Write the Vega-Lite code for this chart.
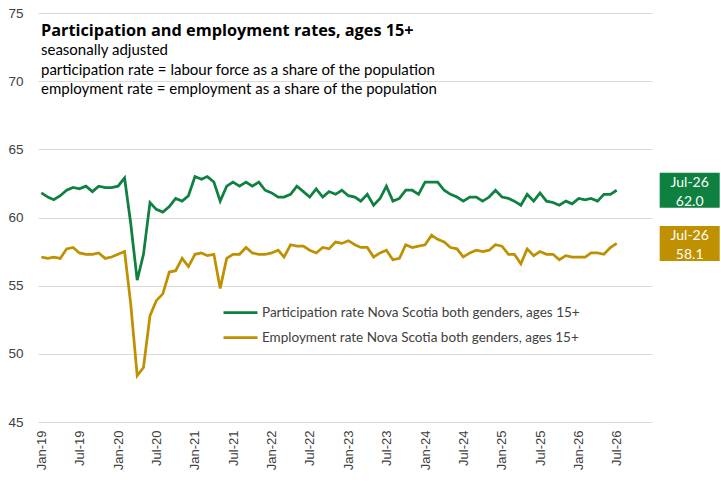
{
  "$schema": "https://vega.github.io/schema/vega-lite/v6.json",
  "width": 614,
  "height": 409,
  "autosize": {"type": "none"},
  "padding": {"left": 38, "top": 13, "right": 69, "bottom": 59},
  "background": "white",
  "config": {"view": {"stroke": null}, "font": "Lato"},
  "title": {
    "text": "Participation and employment rates, ages 15+",
    "subtitle": [
      "seasonally adjusted",
      "participation rate = labour force as a share of the population",
      "employment rate = employment as a share of the population"
    ],
    "anchor": "start",
    "frame": "group",
    "orient": "top",
    "offset": -91,
    "dx": 3,
    "font": "Open Sans",
    "fontSize": 16.3,
    "fontWeight": "bold",
    "color": "#000000",
    "subtitleFont": "Lato",
    "subtitleFontSize": 15,
    "subtitleColor": "#000000",
    "subtitlePadding": 4,
    "subtitleLineHeight": 19.5
  },
  "data": {
    "format": {"parse": {"date": "date"}},
    "values": [
      {"date": "2019/01/01", "p": 61.8, "e": 57.1},
      {"date": "2019/02/01", "p": 61.5, "e": 57.0},
      {"date": "2019/03/01", "p": 61.3, "e": 57.1},
      {"date": "2019/04/01", "p": 61.6, "e": 57.0},
      {"date": "2019/05/01", "p": 62.0, "e": 57.7},
      {"date": "2019/06/01", "p": 62.2, "e": 57.8},
      {"date": "2019/07/01", "p": 62.1, "e": 57.4},
      {"date": "2019/08/01", "p": 62.3, "e": 57.3},
      {"date": "2019/09/01", "p": 61.9, "e": 57.3},
      {"date": "2019/10/01", "p": 62.3, "e": 57.4},
      {"date": "2019/11/01", "p": 62.2, "e": 57.0},
      {"date": "2019/12/01", "p": 62.2, "e": 57.1},
      {"date": "2020/01/01", "p": 62.3, "e": 57.3},
      {"date": "2020/02/01", "p": 62.9, "e": 57.5},
      {"date": "2020/03/01", "p": 59.6, "e": 53.7},
      {"date": "2020/04/01", "p": 55.4, "e": 48.4},
      {"date": "2020/05/01", "p": 57.3, "e": 49.0},
      {"date": "2020/06/01", "p": 61.1, "e": 52.8},
      {"date": "2020/07/01", "p": 60.6, "e": 53.9},
      {"date": "2020/08/01", "p": 60.4, "e": 54.4},
      {"date": "2020/09/01", "p": 60.8, "e": 56.0},
      {"date": "2020/10/01", "p": 61.4, "e": 56.1},
      {"date": "2020/11/01", "p": 61.2, "e": 57.0},
      {"date": "2020/12/01", "p": 61.6, "e": 56.4},
      {"date": "2021/01/01", "p": 63.0, "e": 57.3},
      {"date": "2021/02/01", "p": 62.8, "e": 57.4},
      {"date": "2021/03/01", "p": 63.0, "e": 57.2},
      {"date": "2021/04/01", "p": 62.6, "e": 57.3},
      {"date": "2021/05/01", "p": 61.2, "e": 54.8},
      {"date": "2021/06/01", "p": 62.3, "e": 57.0},
      {"date": "2021/07/01", "p": 62.6, "e": 57.3},
      {"date": "2021/08/01", "p": 62.3, "e": 57.3},
      {"date": "2021/09/01", "p": 62.6, "e": 57.8},
      {"date": "2021/10/01", "p": 62.3, "e": 57.4},
      {"date": "2021/11/01", "p": 62.6, "e": 57.3},
      {"date": "2021/12/01", "p": 62.0, "e": 57.3},
      {"date": "2022/01/01", "p": 61.8, "e": 57.4},
      {"date": "2022/02/01", "p": 61.5, "e": 57.6},
      {"date": "2022/03/01", "p": 61.5, "e": 57.1},
      {"date": "2022/04/01", "p": 61.7, "e": 58.0},
      {"date": "2022/05/01", "p": 62.3, "e": 57.9},
      {"date": "2022/06/01", "p": 61.9, "e": 57.9},
      {"date": "2022/07/01", "p": 61.5, "e": 57.6},
      {"date": "2022/08/01", "p": 62.1, "e": 57.4},
      {"date": "2022/09/01", "p": 61.5, "e": 57.8},
      {"date": "2022/10/01", "p": 61.9, "e": 57.7},
      {"date": "2022/11/01", "p": 61.7, "e": 58.2},
      {"date": "2022/12/01", "p": 62.0, "e": 58.1},
      {"date": "2023/01/01", "p": 61.6, "e": 58.3},
      {"date": "2023/02/01", "p": 61.5, "e": 58.0},
      {"date": "2023/03/01", "p": 61.2, "e": 57.8},
      {"date": "2023/04/01", "p": 61.7, "e": 57.8},
      {"date": "2023/05/01", "p": 60.9, "e": 57.1},
      {"date": "2023/06/01", "p": 61.4, "e": 57.4},
      {"date": "2023/07/01", "p": 62.3, "e": 57.6},
      {"date": "2023/08/01", "p": 61.2, "e": 56.9},
      {"date": "2023/09/01", "p": 61.4, "e": 57.0},
      {"date": "2023/10/01", "p": 62.0, "e": 58.0},
      {"date": "2023/11/01", "p": 62.0, "e": 57.8},
      {"date": "2023/12/01", "p": 61.7, "e": 57.9},
      {"date": "2024/01/01", "p": 62.6, "e": 58.0},
      {"date": "2024/02/01", "p": 62.6, "e": 58.7},
      {"date": "2024/03/01", "p": 62.6, "e": 58.4},
      {"date": "2024/04/01", "p": 62.0, "e": 58.2},
      {"date": "2024/05/01", "p": 61.7, "e": 57.8},
      {"date": "2024/06/01", "p": 61.5, "e": 57.7},
      {"date": "2024/07/01", "p": 61.2, "e": 57.1},
      {"date": "2024/08/01", "p": 61.5, "e": 57.4},
      {"date": "2024/09/01", "p": 61.5, "e": 57.6},
      {"date": "2024/10/01", "p": 61.2, "e": 57.5},
      {"date": "2024/11/01", "p": 61.5, "e": 57.6},
      {"date": "2024/12/01", "p": 62.0, "e": 58.0},
      {"date": "2025/01/01", "p": 61.5, "e": 57.9},
      {"date": "2025/02/01", "p": 61.4, "e": 57.3},
      {"date": "2025/03/01", "p": 61.2, "e": 57.3},
      {"date": "2025/04/01", "p": 60.9, "e": 56.6},
      {"date": "2025/05/01", "p": 61.7, "e": 57.7},
      {"date": "2025/06/01", "p": 61.2, "e": 57.2},
      {"date": "2025/07/01", "p": 61.8, "e": 57.5},
      {"date": "2025/08/01", "p": 61.2, "e": 57.3},
      {"date": "2025/09/01", "p": 61.1, "e": 57.3},
      {"date": "2025/10/01", "p": 60.9, "e": 56.9},
      {"date": "2025/11/01", "p": 61.2, "e": 57.2},
      {"date": "2025/12/01", "p": 61.0, "e": 57.1},
      {"date": "2026/01/01", "p": 61.4, "e": 57.1},
      {"date": "2026/02/01", "p": 61.3, "e": 57.1},
      {"date": "2026/03/01", "p": 61.4, "e": 57.4},
      {"date": "2026/04/01", "p": 61.2, "e": 57.4},
      {"date": "2026/05/01", "p": 61.7, "e": 57.3},
      {"date": "2026/06/01", "p": 61.7, "e": 57.8},
      {"date": "2026/07/01", "p": 62.0, "e": 58.1}
    ]
  },
  "transform": [{"fold": ["p", "e"], "as": ["series", "value"]}],
  "encoding": {
    "x": {
      "field": "date",
      "type": "temporal",
      "scale": {
        "domain": [
          {"year": 2018, "month": 12, "date": 16},
          {"year": 2026, "month": 12, "date": 16}
        ]
      },
      "axis": {
        "title": null,
        "values": [
          {"year": 2019, "month": 1, "date": 1},
          {"year": 2019, "month": 7, "date": 1},
          {"year": 2020, "month": 1, "date": 1},
          {"year": 2020, "month": 7, "date": 1},
          {"year": 2021, "month": 1, "date": 1},
          {"year": 2021, "month": 7, "date": 1},
          {"year": 2022, "month": 1, "date": 1},
          {"year": 2022, "month": 7, "date": 1},
          {"year": 2023, "month": 1, "date": 1},
          {"year": 2023, "month": 7, "date": 1},
          {"year": 2024, "month": 1, "date": 1},
          {"year": 2024, "month": 7, "date": 1},
          {"year": 2025, "month": 1, "date": 1},
          {"year": 2025, "month": 7, "date": 1},
          {"year": 2026, "month": 1, "date": 1},
          {"year": 2026, "month": 7, "date": 1}
        ],
        "format": "%b-%y",
        "labelAngle": 270,
        "labelAlign": "right",
        "labelBaseline": "middle",
        "labelFont": "Liberation Sans",
        "labelFontSize": 13,
        "labelColor": "#404040",
        "labelPadding": 8,
        "labelFlush": false,
        "labelOverlap": false,
        "grid": false,
        "domain": false,
        "ticks": false,
        "tickSize": 0
      }
    },
    "y": {
      "field": "value",
      "type": "quantitative",
      "scale": {"domain": [45, 75], "nice": false, "zero": false},
      "axis": {
        "title": null,
        "values": [45, 50, 55, 60, 65, 70, 75],
        "grid": true,
        "gridColor": "#d9d9d9",
        "domain": false,
        "ticks": false,
        "tickSize": 0,
        "labelPadding": 15,
        "labelFont": "Liberation Sans",
        "labelFontSize": 13.5,
        "labelColor": "#404040"
      }
    }
  },
  "layer": [
    {
      "mark": {"type": "line", "strokeWidth": 2.75},
      "encoding": {
        "color": {
          "field": "series",
          "type": "nominal",
          "scale": {"domain": ["p", "e"], "range": ["#0E8040", "#BF9000"]},
          "legend": {
            "title": null,
            "orient": "none",
            "legendX": 184,
            "legendY": 281,
            "symbolType": "stroke",
            "symbolSize": 1156,
            "symbolStrokeWidth": 2.75,
            "labelFont": "Lato",
            "labelFontSize": 13.5,
            "labelColor": "#404040",
            "labelOffset": 3,
            "labelLimit": 0,
            "rowPadding": 0,
            "labelExpr": "datum.label == 'p' ? 'Participation rate Nova Scotia both genders, ages 15+' : 'Employment rate Nova Scotia both genders, ages 15+'"
          }
        }
      }
    },
    {
      "transform": [{"filter": "year(datum.date) == 2026 && month(datum.date) == 6"}],
      "mark": {
        "type": "point",
        "shape": "M-1,-0.583H1V0.583H-1Z",
        "filled": true,
        "opacity": 1,
        "size": 3600,
        "strokeWidth": 0,
        "xOffset": 73
      },
      "encoding": {
        "fill": {
          "field": "series",
          "type": "nominal",
          "scale": {"domain": ["p", "e"], "range": ["#0E8040", "#BF9000"]},
          "legend": null
        }
      }
    },
    {
      "transform": [
        {"filter": "year(datum.date) == 2026 && month(datum.date) == 6"},
        {"calculate": "timeFormat(datum.date, '%b-%y') + '\\n' + format(datum.value, '.1f')", "as": "label"}
      ],
      "mark": {
        "type": "text",
        "color": "white",
        "font": "Lato",
        "fontSize": 14,
        "lineBreak": "\n",
        "lineHeight": 19,
        "align": "center",
        "baseline": "middle",
        "dy": -7,
        "xOffset": 73
      },
      "encoding": {
        "text": {"field": "label"}
      }
    }
  ]
}
